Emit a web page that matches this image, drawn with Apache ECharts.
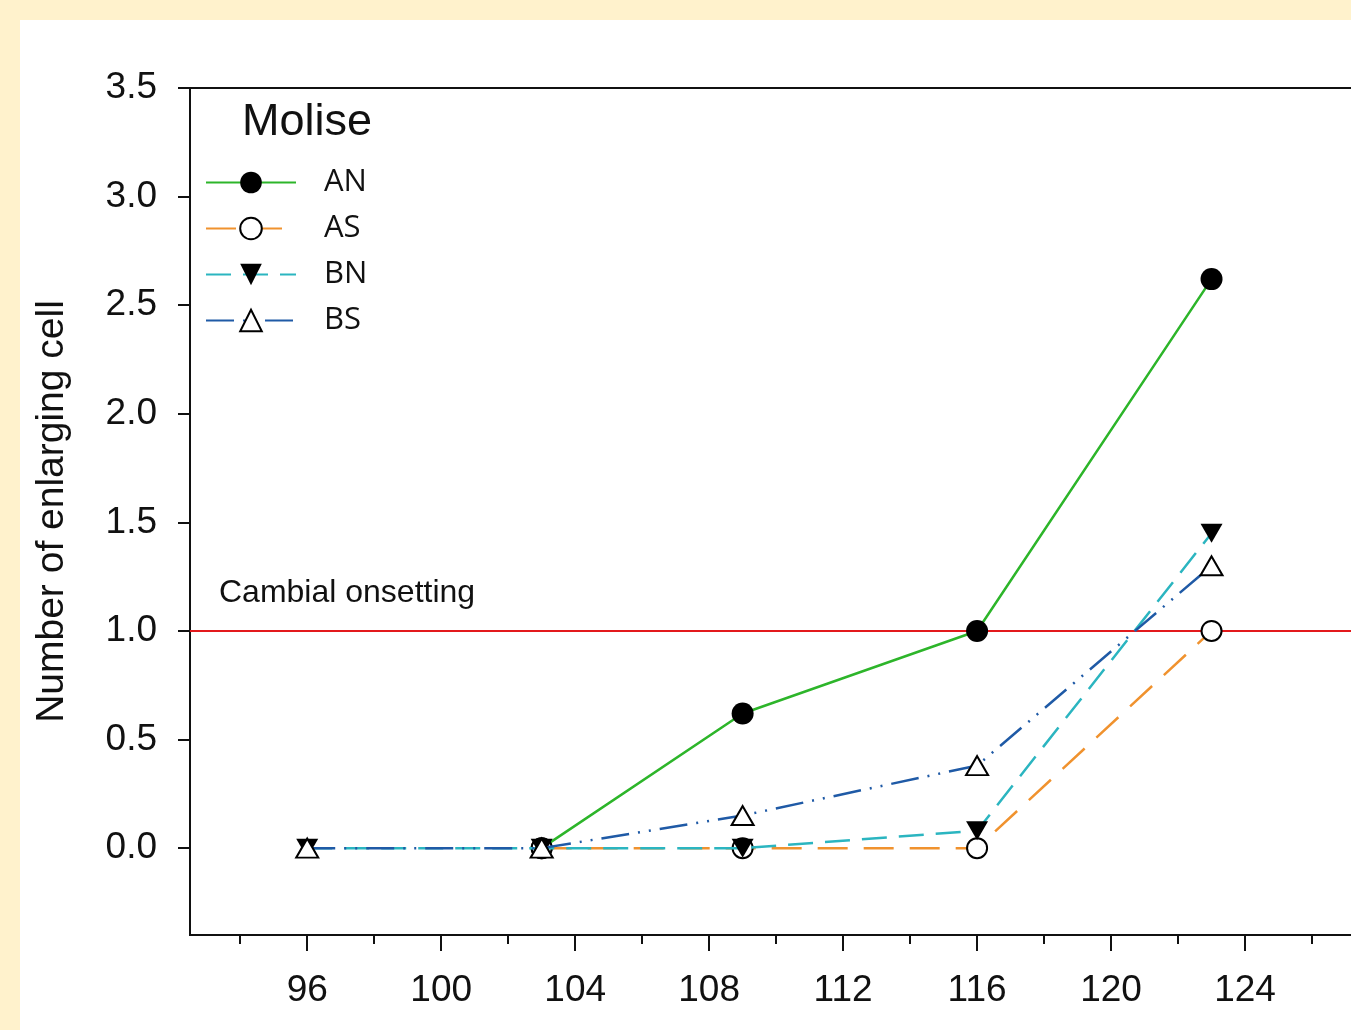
<!DOCTYPE html>
<html>
<head>
<meta charset="utf-8">
<script src="https://cdn.jsdelivr.net/npm/echarts@6/dist/echarts.min.js"></script>
<style>
  html, body { margin: 0; padding: 0; background: #FFF2CC; width: 1351px; height: 1030px; overflow: hidden; }
  #chart { position: absolute; left: 20px; top: 20px; width: 1400px; height: 1010px; background: #ffffff; }
</style>
</head>
<body>
<div id="chart"></div>
<script>
// ---- data ----
const days = [96, 103, 109, 116, 123];
const seriesNames = ['AN', 'AS', 'BN', 'BS'];
const valuesAN = [null, 0, 0.62, 1.0, 2.62];
const valuesAS = [null, 0, 0, 0, 1.0];
const valuesBN = [0, 0, 0, 0.08, 1.45];
const valuesBS = [0, 0, 0.15, 0.38, 1.3];
const xMajorTicks = [96, 100, 104, 108, 112, 116, 120, 124];
const xMinorTicks = [94, 98, 102, 106, 110, 114, 118, 122, 126];
const yTicks = [0, 0.5, 1.0, 1.5, 2.0, 2.5, 3.0, 3.5];
const thresholdValue = 1.0;
const thresholdLabel = 'Cambial onsetting';
const panelTitle = 'Molise';
const yTitle = 'Number of enlarging cell';

function pairs(vals) {
  return days.map((d, i) => [d, vals[i]]);
}

const FONT = '"Liberation Sans", Arial, Helvetica, sans-serif';
const chart = echarts.init(document.getElementById('chart'), null, { renderer: 'canvas' });

const option = {
  animation: false,
  title: {
    text: panelTitle,
    left: 222,
    top: 80,
    padding: 0,
    textStyle: { fontFamily: FONT, fontSize: 45, fontWeight: 'normal', color: '#111', lineHeight: 45 }
  },
  legend: {
    orient: 'vertical',
    left: 185,
    top: 147,
    padding: 0,
    itemWidth: 90,
    itemHeight: 27,
    itemGap: 15,
    data: seriesNames,
    textStyle: { fontFamily: '"Open Sans", sans-serif', fontSize: 31, color: '#111', lineHeight: 27, padding: [0, 0, 0, 23] }
  },
  grid: {
    left: 170,
    top: 68,
    bottom: 95,
    width: 1189,
    show: true,
    borderColor: '#111',
    borderWidth: 2,
    backgroundColor: 'transparent'
  },
  xAxis: [
    {
      type: 'value',
      min: 92.5,
      max: 128,
      position: 'bottom',
      splitLine: { show: false },
      axisLine: { show: true, onZero: false, lineStyle: { color: '#111', width: 2 } },
      axisTick: { show: true, customValues: xMajorTicks, length: 16, lineStyle: { color: '#111', width: 2 } },
      axisLabel: { customValues: xMajorTicks, fontFamily: FONT, fontSize: 37, color: '#111', margin: 37 }
    },
    {
      type: 'value',
      min: 92.5,
      max: 128,
      position: 'bottom',
      splitLine: { show: false },
      axisLine: { show: false, onZero: false },
      axisTick: { show: true, customValues: xMinorTicks, length: 9, lineStyle: { color: '#111', width: 2 } },
      axisLabel: { show: false }
    }
  ],
  yAxis: {
    type: 'value',
    min: -0.4,
    max: 3.5,
    splitLine: { show: false },
    axisLine: { show: true, onZero: false, lineStyle: { color: '#111', width: 2 } },
    axisTick: { show: true, customValues: yTicks, length: 12, lineStyle: { color: '#111', width: 2 } },
    axisLabel: {
      customValues: yTicks, fontFamily: FONT, fontSize: 37, color: '#111', margin: 33,
      formatter: v => v.toFixed(1)
    },
    name: yTitle,
    nameLocation: 'middle',
    nameRotate: 90,
    nameGap: 118,
    nameTextStyle: { fontFamily: FONT, fontSize: 39, color: '#111' }
  },
  series: [
    {
      name: 'AN', type: 'line', data: pairs(valuesAN),
      symbol: 'circle', symbolSize: 22,
      lineStyle: { color: '#2DB52A', width: 2.5, type: 'solid' },
      itemStyle: { color: '#000', borderColor: '#000', borderWidth: 0 },
      z: 3,
      markLine: {
        silent: true,
        symbol: ['none', 'none'],
        lineStyle: { color: '#E3191C', width: 2, type: 'solid' },
        label: {
          show: true, position: 'insideStartTop', formatter: thresholdLabel,
          distance: [29, 22], fontFamily: FONT, fontSize: 32, color: '#111'
        },
        data: [{ yAxis: thresholdValue }],
        z: 1
      }
    },
    {
      name: 'AS', type: 'line', data: pairs(valuesAS),
      symbol: 'circle', symbolSize: 20,
      lineStyle: { color: '#F0922E', width: 2.5, type: [30, 16] },
      itemStyle: { color: '#fff', borderColor: '#000', borderWidth: 2 },
      z: 4
    },
    {
      name: 'BN', type: 'line', data: pairs(valuesBN),
      symbol: 'triangle', symbolSize: [22, 19], symbolRotate: 180,
      lineStyle: { color: '#2BB5C0', width: 2.5, type: [25, 12] },
      itemStyle: { color: '#000', borderColor: '#000', borderWidth: 0 },
      z: 5
    },
    {
      name: 'BS', type: 'line', data: pairs(valuesBS),
      symbol: 'triangle', symbolSize: [22, 19],
      lineStyle: { color: '#1F5AA6', width: 2.5, type: [28, 9, 2, 9, 2, 9] },
      itemStyle: { color: '#fff', borderColor: '#000', borderWidth: 2 },
      z: 6
    }
  ]
};
chart.setOption(option);
</script>
</body>
</html>
